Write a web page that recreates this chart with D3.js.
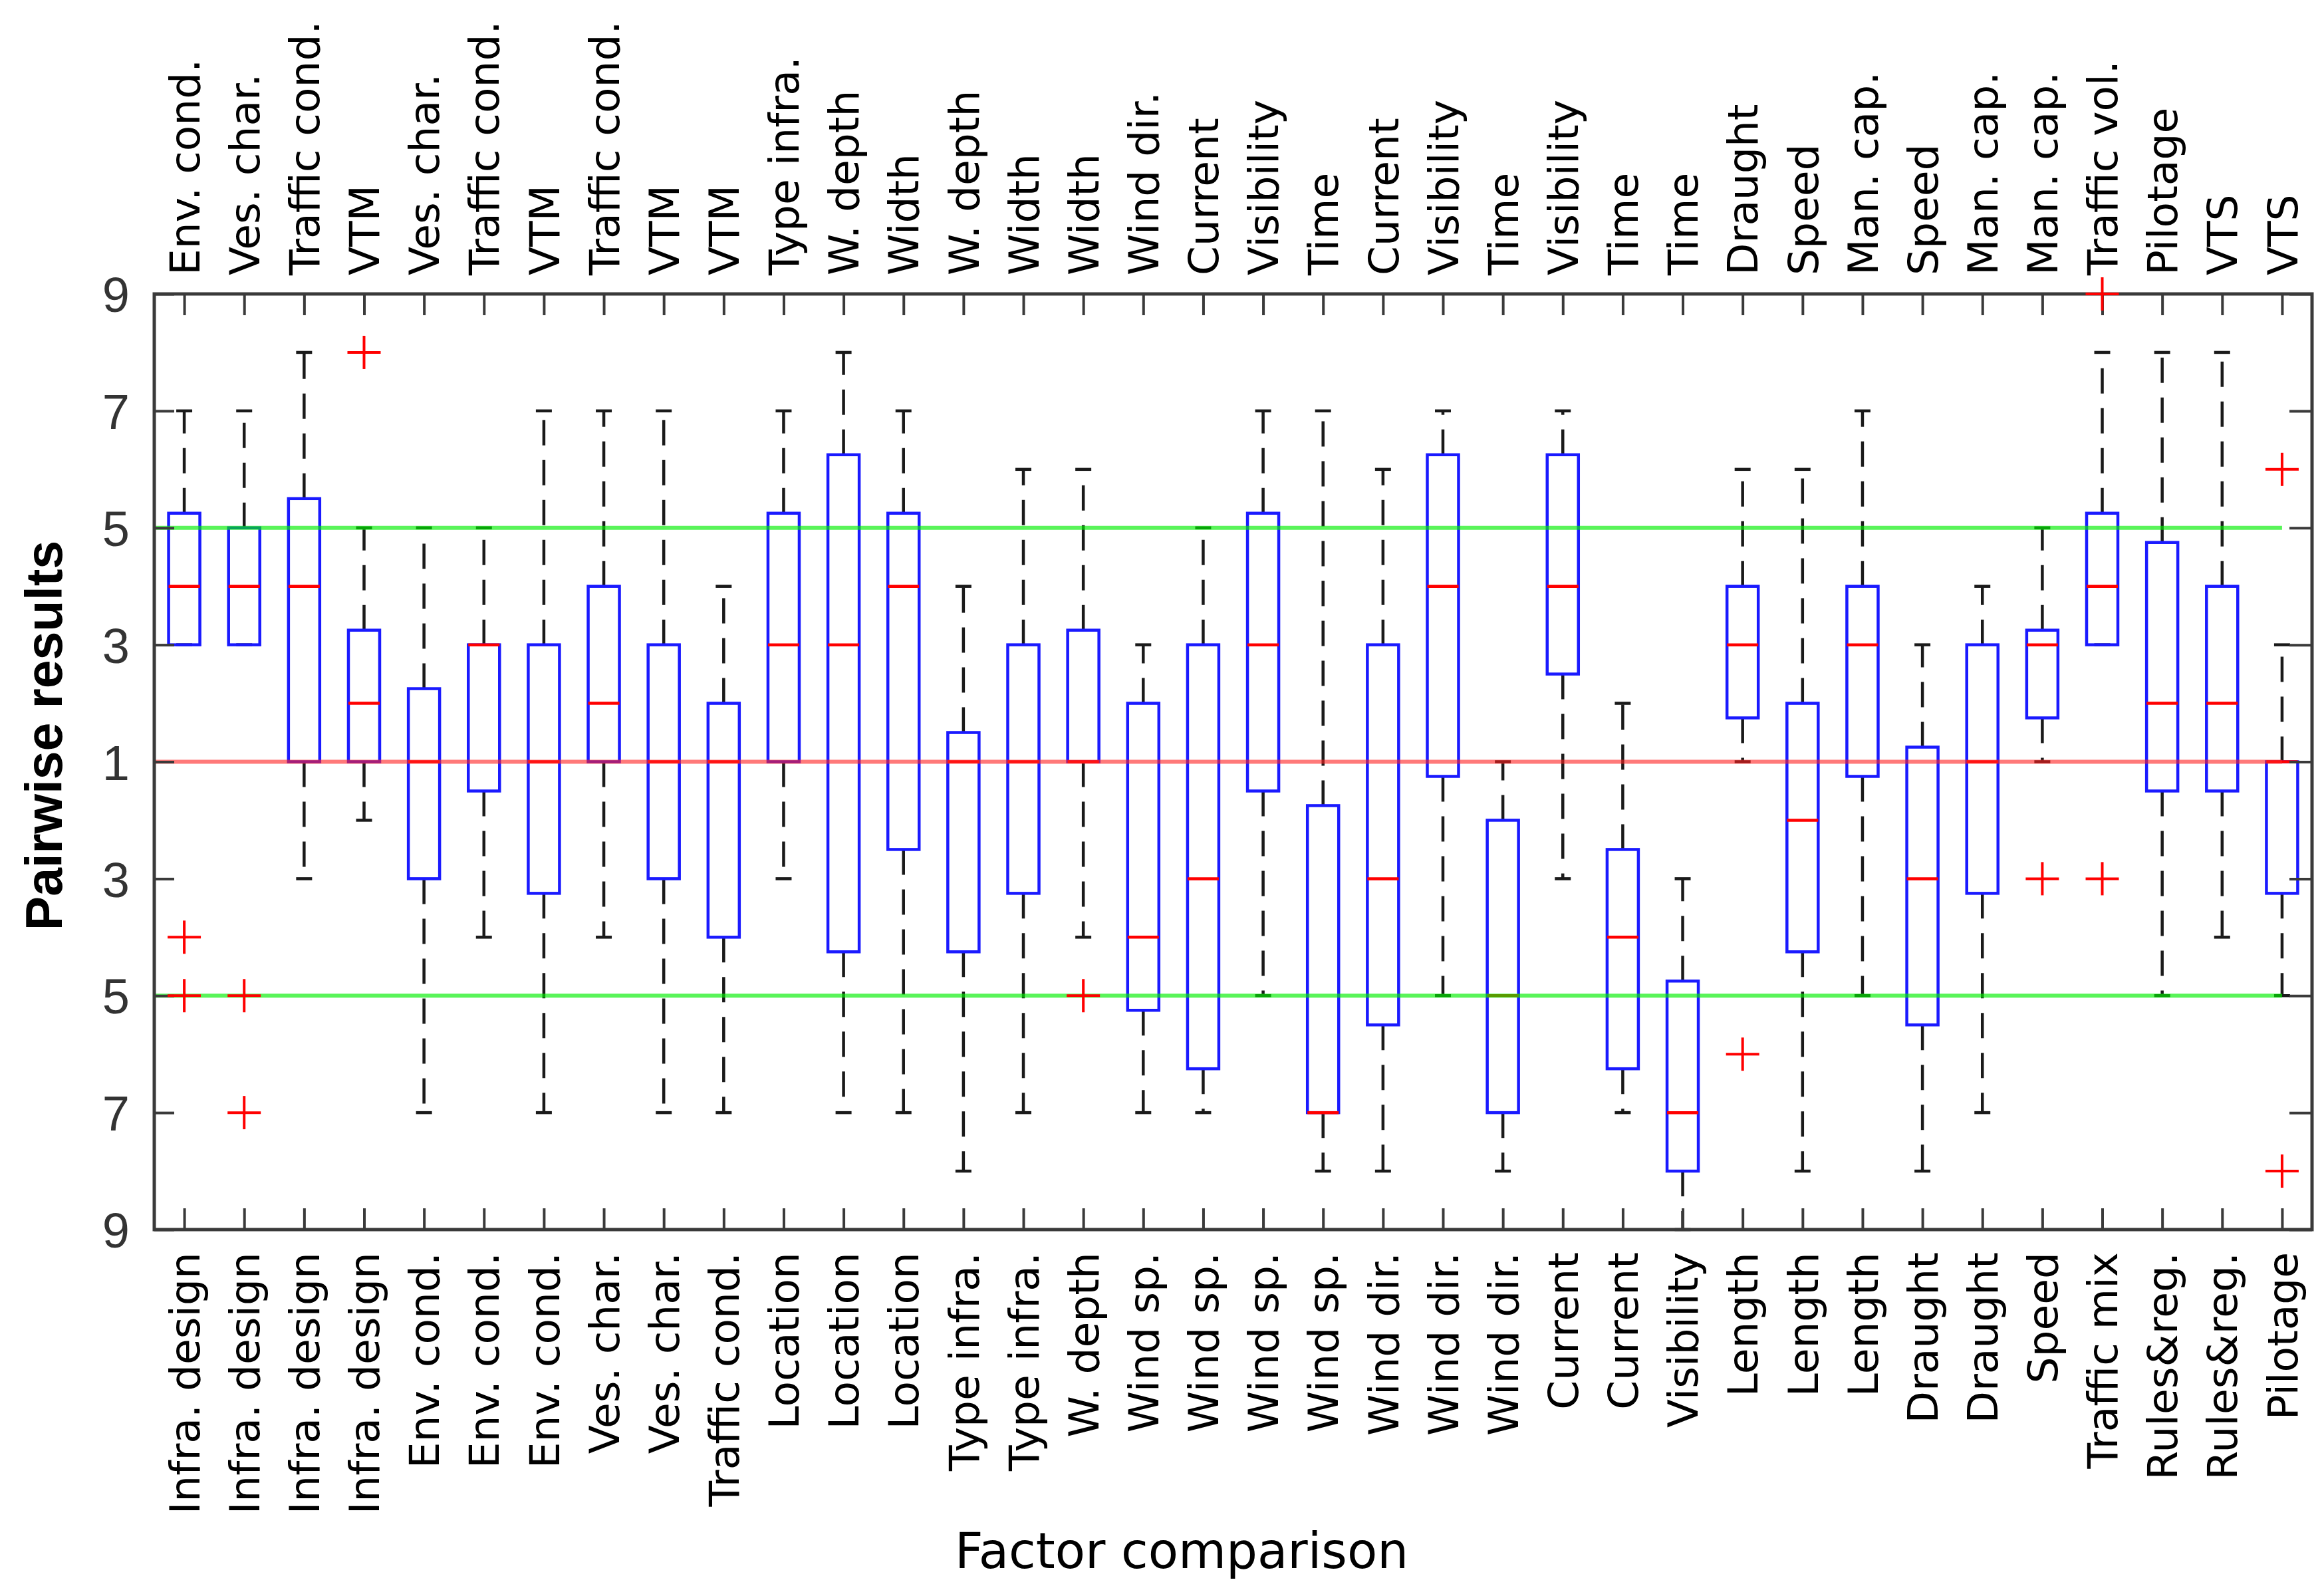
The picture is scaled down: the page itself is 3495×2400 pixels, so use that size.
<!DOCTYPE html>
<html>
<head>
<meta charset="utf-8">
<script src="https://cdn.jsdelivr.net/npm/d3@7"></script>
<style>
  html, body { margin: 0; padding: 0; background: #fff; }
  svg { display: block; }
</style>
</head>
<body>
<script>
// ---- data (internal scale: 0 = "1", +k = "k+1" preferred top factor, -k = "k+1" preferred bottom factor)
const topLabels = ["Env. cond.","Ves. char.","Traffic cond.","VTM","Ves. char.","Traffic cond.","VTM","Traffic cond.","VTM","VTM",
  "Type infra.","W. depth","Width","W. depth","Width","Width","Wind dir.","Current","Visibility","Time",
  "Current","Visibility","Time","Visibility","Time","Time","Draught","Speed","Man. cap.","Speed",
  "Man. cap.","Man. cap.","Traffic vol.","Pilotage","VTS","VTS"];
const bottomLabels = ["Infra. design","Infra. design","Infra. design","Infra. design","Env. cond.","Env. cond.","Env. cond.","Ves. char.","Ves. char.","Traffic cond.",
  "Location","Location","Location","Type infra.","Type infra.","W. depth","Wind sp.","Wind sp.","Wind sp.","Wind sp.",
  "Wind dir.","Wind dir.","Wind dir.","Current","Current","Visibility","Length","Length","Length","Draught",
  "Draught","Speed","Traffic mix","Rules&reg.","Rules&reg.","Pilotage"];
const whiskerHigh = [6,6,7,4,4,4,6,6,6,3, 6,7,6,3,5,5,2,4,6,6, 5,6,0,6,1,-2,5,5,6,2, 3,4,7,7,7,2];
const q3          = [4.25,4,4.5,2.25,1.25,2,2,3,2,1, 4.25,5.25,4.25,0.5,2,2.25,1,2,4.25,-0.75, 2,5.25,-1,5.25,-1.5,-3.75,3,1,3,0.25, 2,2.25,4.25,3.75,3,0];
const medians     = [3,3,3,1,0,2,0,1,0,0, 2,2,3,0,0,0,-3,-2,2,-6, -2,3,-4,3,-3,-6,2,-1,2,-2, 0,2,3,1,1,0];
const q1          = [2,2,0,0,-2,-0.5,-2.25,0,-2,-3, 0,-3.25,-1.5,-3.25,-2.25,0,-4.25,-5.25,-0.5,-6, -4.5,-0.25,-6,1.5,-5.25,-7,0.75,-3.25,-0.25,-4.5, -2.25,0.75,2,-0.5,-0.5,-2.25];
const whiskerLow  = [2,2,-2,-1,-6,-3,-6,-3,-6,-6, -2,-6,-6,-7,-6,-3,-6,-6,-4,-7, -7,-4,-7,-2,-6,-8,0,-7,-4,-7, -6,0,2,-4,-3,-4];
const outlierIdx  = [0,0,1,1,3,15,26,31,32,32,35,35];
const outlierVal  = [-3,-4,-4,-6,7,-4,-5,-2,8,-2,5,-7];
const yTickValues = [-8,-6,-4,-2,0,2,4,6,8];
const yTickLabels = ["9","7","5","3","1","3","5","7","9"];
const refGreen = [4,-4];
const refRed = [0];

// ---- layout
const W = 3495, H = 2400;
const L = 232, R = 3477, T = 442, B = 1849;

const svg = d3.select("body").append("svg").attr("width", W).attr("height", H);

const idx = d3.range(topLabels.length);
const x = d3.scalePoint().domain(idx).range([L, R]).padding(0.5);
const y = d3.scaleLinear().domain([-8, 8]).range([B, T]);

const boxW = 47, capW = 24;
const axisColor = "#3a3a3a";

// whiskers (dashed), boxes, medians
const g = svg.append("g");
idx.forEach(i => {
  const cx = x(i);
  if (whiskerHigh[i] > q3[i]) {
    g.append("line").attr("x1", cx).attr("x2", cx).attr("y1", y(q3[i])).attr("y2", y(whiskerHigh[i]))
      .attr("stroke", "#1a1a1a").attr("stroke-width", 4.5).attr("stroke-dasharray", "38,22");
  }
  if (whiskerLow[i] < q1[i]) {
    g.append("line").attr("x1", cx).attr("x2", cx).attr("y1", y(q1[i])).attr("y2", y(whiskerLow[i]))
      .attr("stroke", "#1a1a1a").attr("stroke-width", 4.5).attr("stroke-dasharray", "38,22");
  }
  [whiskerHigh[i], whiskerLow[i]].forEach(v => {
    g.append("line").attr("x1", cx - capW/2).attr("x2", cx + capW/2).attr("y1", y(v)).attr("y2", y(v))
      .attr("stroke", "#1a1a1a").attr("stroke-width", 4.5);
  });
  g.append("rect").attr("x", cx - boxW/2).attr("width", boxW)
    .attr("y", y(q3[i])).attr("height", Math.max(0, y(q1[i]) - y(q3[i])))
    .attr("fill", "none").attr("stroke", "#1a1aff").attr("stroke-width", 4.5);
  g.append("line").attr("x1", cx - boxW/2).attr("x2", cx + boxW/2).attr("y1", y(medians[i])).attr("y2", y(medians[i]))
    .attr("stroke", "#ff0000").attr("stroke-width", 4.5);
});

// reference lines (drawn from left axis to last category)
const xEnd = x(idx[idx.length - 1]);
refGreen.forEach(v => {
  svg.append("line").attr("x1", L).attr("x2", xEnd).attr("y1", y(v)).attr("y2", y(v))
    .attr("stroke", "#00ee00").attr("stroke-opacity", 0.65).attr("stroke-width", 6);
});
refRed.forEach(v => {
  svg.append("line").attr("x1", L).attr("x2", xEnd).attr("y1", y(v)).attr("y2", y(v))
    .attr("stroke", "#ff2020").attr("stroke-opacity", 0.6).attr("stroke-width", 6);
});

// axes box
svg.append("rect").attr("x", L).attr("y", T).attr("width", R - L).attr("height", B - T)
  .attr("fill", "none").attr("stroke", axisColor).attr("stroke-width", 5);

// y axis (left) with labels, inward ticks
const yAxisL = d3.axisLeft(y).tickValues(yTickValues).tickSizeInner(-30).tickSizeOuter(0)
  .tickFormat((d, i) => yTickLabels[i]);
const gyl = svg.append("g").attr("transform", `translate(${L},0)`).call(yAxisL);
gyl.select(".domain").remove();
gyl.selectAll(".tick line").attr("stroke", axisColor).attr("stroke-width", 4);
gyl.selectAll(".tick text").attr("x", -37).attr("dy", "0.36em")
  .style("font-family", "'Liberation Sans', Arial, sans-serif").style("font-size", "74px").attr("fill", "#333");

const yAxisR = d3.axisRight(y).tickValues(yTickValues).tickSizeInner(-34).tickSizeOuter(0).tickFormat("");
const gyr = svg.append("g").attr("transform", `translate(${R},0)`).call(yAxisR);
gyr.select(".domain").remove();
gyr.selectAll(".tick line").attr("stroke", axisColor).attr("stroke-width", 4);

// x ticks top and bottom (inward)
const xAxisT = d3.axisTop(x).tickSizeInner(-32).tickSizeOuter(0).tickFormat("");
const gxt = svg.append("g").attr("transform", `translate(0,${T})`).call(xAxisT);
gxt.select(".domain").remove();
gxt.selectAll(".tick line").attr("stroke", axisColor).attr("stroke-width", 4);
const xAxisB = d3.axisBottom(x).tickSizeInner(-32).tickSizeOuter(0).tickFormat("");
const gxb = svg.append("g").attr("transform", `translate(0,${B})`).call(xAxisB);
gxb.select(".domain").remove();
gxb.selectAll(".tick line").attr("stroke", axisColor).attr("stroke-width", 4);

// category labels
const labFont = "'DejaVu Sans', Verdana, sans-serif";
svg.append("g").selectAll("text").data(idx).join("text")
  .attr("transform", i => `translate(${x(i)},${T - 28}) rotate(-90)`)
  .attr("dy", "0.36em").attr("text-anchor", "start")
  .style("font-family", labFont).style("font-size", "63px").attr("fill", "#000")
  .text(i => topLabels[i]);
svg.append("g").selectAll("text").data(idx).join("text")
  .attr("transform", i => `translate(${x(i)},${B + 34}) rotate(-90)`)
  .attr("dy", "0.36em").attr("text-anchor", "end")
  .style("font-family", labFont).style("font-size", "63px").attr("fill", "#000")
  .text(i => bottomLabels[i]);

// outliers '+' (on top)
const ps = 25;
const go = svg.append("g");
outlierIdx.forEach((i, k) => {
  const cx = x(i), cy = y(outlierVal[k]);
  go.append("line").attr("x1", cx - ps).attr("x2", cx + ps).attr("y1", cy).attr("y2", cy).attr("stroke", "#ff0000").attr("stroke-width", 4);
  go.append("line").attr("x1", cx).attr("x2", cx).attr("y1", cy - ps).attr("y2", cy + ps).attr("stroke", "#ff0000").attr("stroke-width", 4);
});

// axis titles
svg.append("text").attr("transform", `translate(93,1106) rotate(-90)`).attr("text-anchor", "middle")
  .style("font-family", "'Liberation Sans', Arial, sans-serif").style("font-weight", "bold").style("font-size", "77px")
  .text("Pairwise results");
svg.append("text").attr("x", 1777).attr("y", 2358).attr("text-anchor", "middle")
  .style("font-family", labFont).style("font-size", "74px")
  .text("Factor comparison");
</script>
</body>
</html>
